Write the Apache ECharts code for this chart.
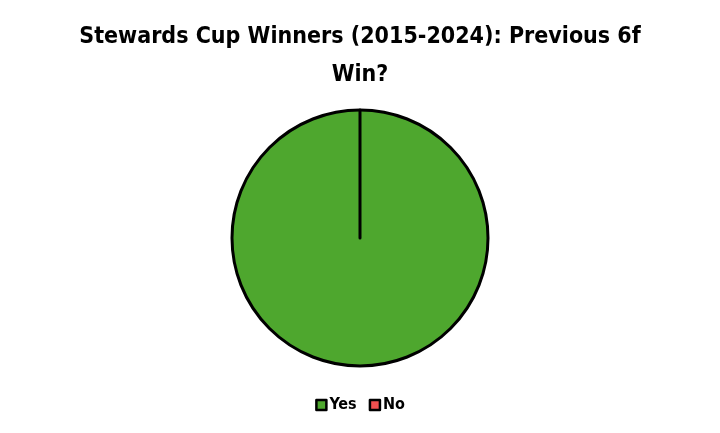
<!DOCTYPE html>
<html>
<head>
<meta charset="utf-8">
<script src="https://cdn.jsdelivr.net/npm/echarts@6/dist/echarts.min.js"></script>
<style>
  html, body { margin: 0; padding: 0; background: #fff; }
  #chart { width: 720px; height: 433px; }
</style>
</head>
<body>
<div id="chart"></div>
<script>
var categories = ['Yes', 'No'];
var values = [10, 0];
var colors = ['#4EA72E', '#F05050'];

var myChart = echarts.init(document.getElementById('chart'));
var option = {
    title: {
        text: 'Stewards Cup Winners (2015-2024): Previous 6f\nWin?',
        left: 'center',
        top: 13,
        textStyle: {
            fontFamily: 'DejaVu Sans Condensed, sans-serif',
            fontSize: 23,
            fontWeight: 'bold',
            color: '#000',
            lineHeight: 38
        }
    },
    legend: {
        data: categories,
        bottom: 15,
        left: 'center',
        itemWidth: 10,
        itemHeight: 10,
        itemGap: 12,
        icon: 'rect',
        textStyle: {
            fontFamily: 'DejaVu Sans Condensed, sans-serif',
            fontSize: 16,
            fontWeight: 'bold',
            color: '#000',
            padding: [0, 0, 0, -2]
        },
        itemStyle: {
            borderColor: '#000',
            borderWidth: 2.5
        }
    },
    series: [{
        type: 'pie',
        radius: 128,
        center: [360, 238],
        startAngle: 90,
        clockwise: true,
        label: { show: false },
        labelLine: { show: false },
        emphasis: { disabled: true },
        itemStyle: {
            borderColor: '#000',
            borderWidth: 3
        },
        data: categories.map(function (c, i) {
            return { name: c, value: values[i], itemStyle: { color: colors[i] } };
        })
    }]
};
myChart.setOption(option);
</script>
</body>
</html>
